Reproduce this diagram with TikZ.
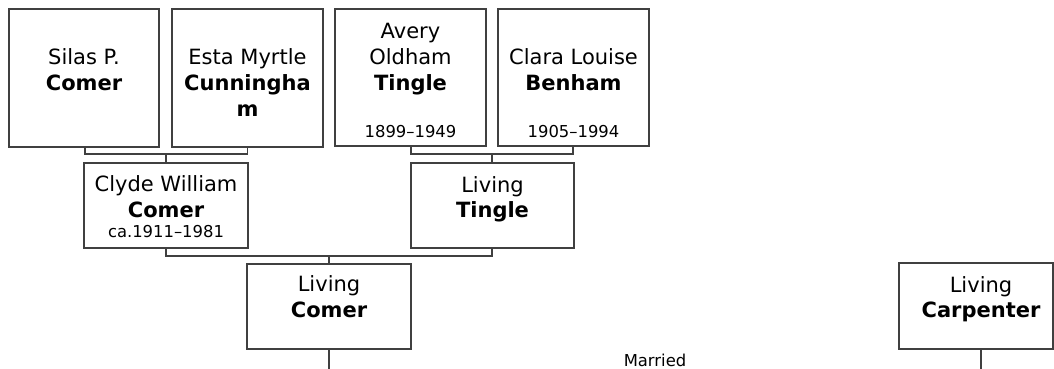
\documentclass[tikz,border=0pt]{standalone}
\usepackage{fontspec}
\setmainfont{DejaVu Sans}
\begin{document}
\begin{tikzpicture}[x=1pt,y=-1pt,
  personbox/.style={draw=linegray,line width=1.3pt,minimum width=#1,inner sep=0pt},
  nm/.style={anchor=base,inner sep=0pt,font=\fontsize{21}{25}\selectfont},
  nb/.style={anchor=base,inner sep=0pt,font=\fontsize{21}{25}\selectfont\bfseries},
  dt/.style={anchor=base,inner sep=0pt,font=\fontsize{16.4}{19}\selectfont},
  conn/.style={draw=linegray,line width=1.3pt}]
\definecolor{linegray}{HTML}{404040}
\useasboundingbox (0,0) rectangle (1054,369);
% boxes
\node[personbox=150pt,minimum height=138pt] (silas) at (84,78) {};
\node[personbox=151pt,minimum height=138pt] (esta) at (247.5,78) {};
\node[personbox=151pt,minimum height=137pt] (avery) at (410.5,77.5) {};
\node[personbox=151pt,minimum height=137pt] (clara) at (573.5,77.5) {};
\node[personbox=164pt,minimum height=85pt] (clyde) at (166,205.5) {};
\node[personbox=163pt,minimum height=85pt] (tingle) at (492.5,205.5) {};
\node[personbox=164pt,minimum height=85pt] (comer) at (329,306.5) {};
\node[personbox=154pt,minimum height=86pt] (carp) at (976,306) {};
% texts
\node[nm] (t1a) at (84,64) {Silas P.};
\node[nb] (t1b) at (84,90) {Comer};
\node[nm] (t2a) at (247.5,64) {Esta Myrtle};
\node[nb] (t2b) at (247.5,90) {Cunningha};
\node[nb] (t2c) at (247.5,116) {m};
\node[nm] (t3a) at (410.5,38) {Avery};
\node[nm] (t3b) at (410.5,64) {Oldham};
\node[nb] (t3c) at (410.5,90) {Tingle};
\node[dt] (t3d) at (410.5,137) {1899–1949};
\node[nm] (t4a) at (573.5,64) {Clara Louise};
\node[nb] (t4b) at (573.5,90) {Benham};
\node[dt] (t4d) at (573.5,137) {1905–1994};
\node[nm] (t5a) at (166,191.5) {Clyde William};
\node[nb] (t5b) at (166,217.5) {Comer};
\node[dt] (t5d) at (166,237.5) {ca.1911–1981};
\node[nm] (t6a) at (492.5,192) {Living};
\node[nb] (t6b) at (492.5,217.5) {Tingle};
\node[nm] (t7a) at (329,291.5) {Living};
\node[nb] (t7b) at (329,317.5) {Comer};
\node[nm] (t8a) at (981,292) {Living};
\node[nb] (t8b) at (981,317) {Carpenter};
\node[dt] (married) at (655,366.5) {Married};
% connectors
\coordinate (j1) at (166,154);
\coordinate (j2) at (492,154);
\coordinate (j3) at (329,256);
\coordinate (e1) at (329,369);
\coordinate (e2) at (981,369);
\draw[conn] ([xshift=1pt]silas.south) |- (j1) -| (esta.south);
\draw[conn] (j1) -- (clyde.north);
\draw[conn] ([xshift=0.5pt]avery.south) |- (j2) -| ([xshift=-0.5pt]clara.south);
\draw[conn] (j2) -- ([xshift=-0.5pt]tingle.north);
\draw[conn] (clyde.south) |- (j3) -| ([xshift=-0.5pt]tingle.south);
\draw[conn] (j3) -- (comer.north);
\draw[conn] (comer.south) -- (e1);
\draw[conn] (carp.south -| e2) -- (e2);
\end{tikzpicture}
\end{document}
